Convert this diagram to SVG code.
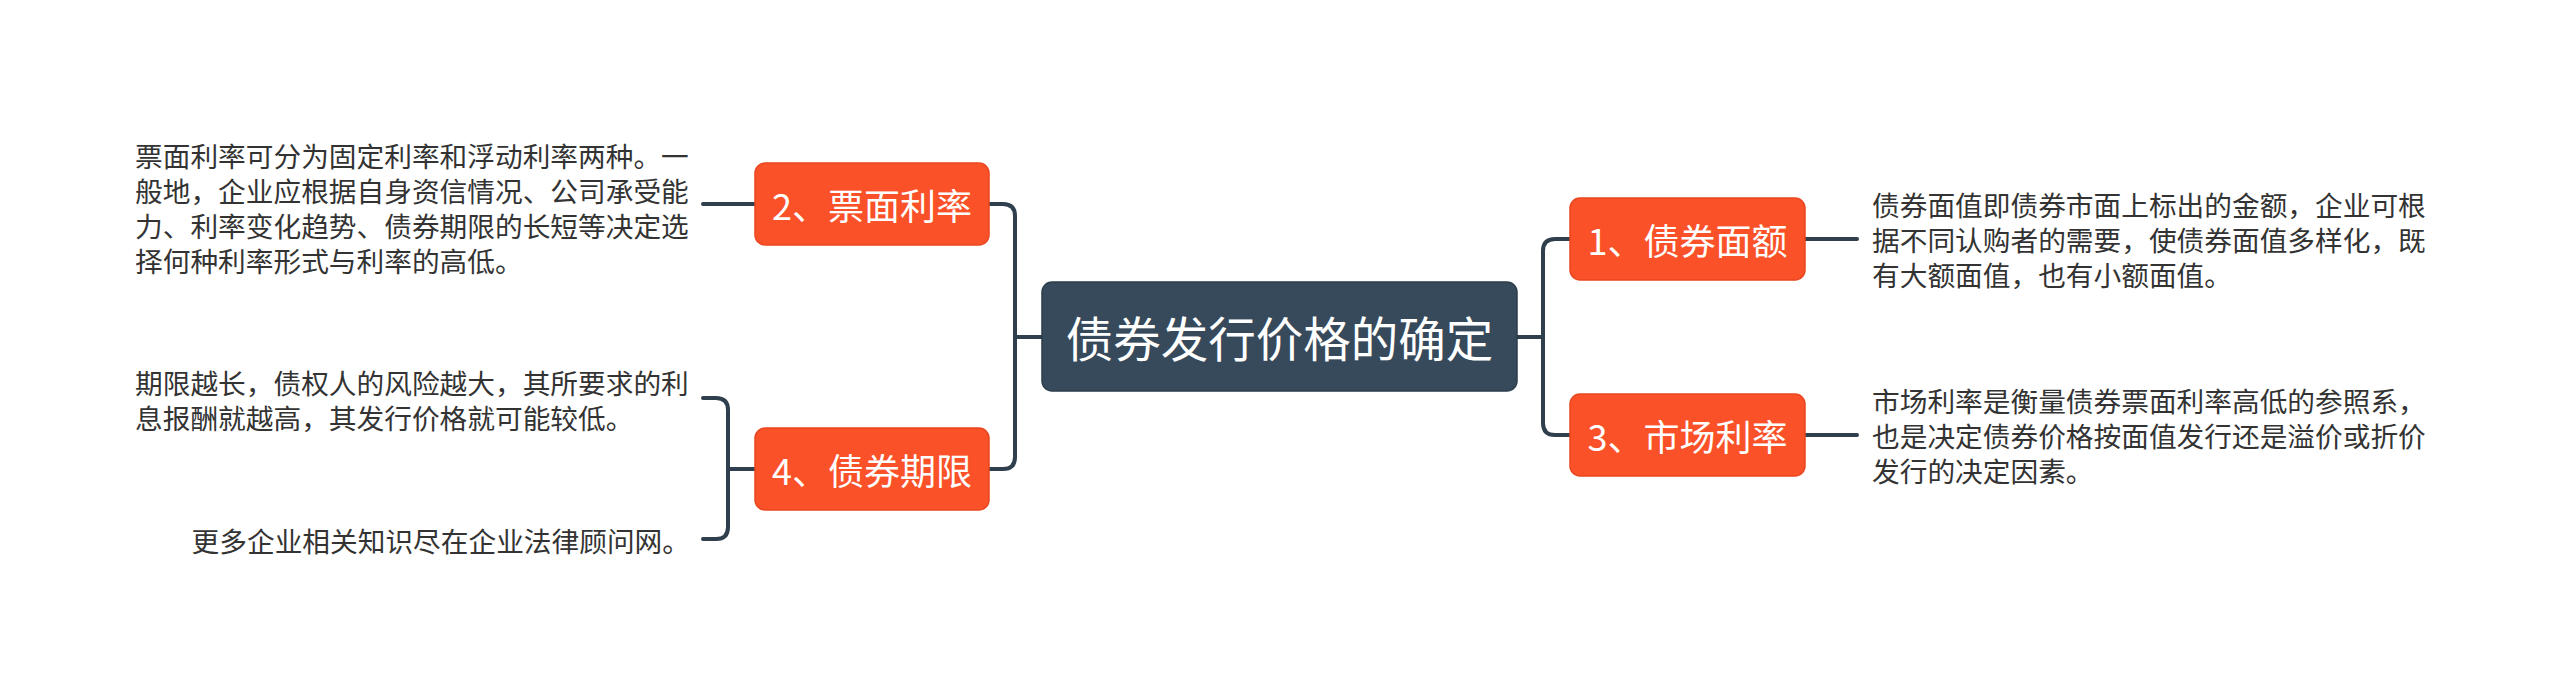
<svg xmlns="http://www.w3.org/2000/svg" width="2560" height="691" viewBox="0 0 2560 691">
<style>
.main{fill:#374a5b;stroke:#2d3e4d;stroke-width:1.5}
.sub{fill:#fa5129;stroke:#e8471f;stroke-width:1.5}
.mt{font-family:"Noto Sans CJK SC","Noto Sans",sans-serif;font-size:47.5px;fill:#ffffff;text-anchor:middle;dominant-baseline:central}
.st{font-family:"Noto Sans CJK SC","Noto Sans",sans-serif;font-size:36px;fill:#ffffff;text-anchor:middle;dominant-baseline:central}
.dt{font-family:"Noto Sans CJK SC","Noto Sans",sans-serif;font-size:27.7px;fill:#333333;dominant-baseline:central}
.ln{fill:none;stroke:#2f3f4e;stroke-width:4;stroke-linecap:round;stroke-linejoin:round}
</style>
<rect width="2560" height="691" fill="#ffffff"/>
<g id="connectors">
<path class="ln" d="M1042 337 H1015 M989 204 H1003 Q1015 204 1015 216 V457 Q1015 469 1003 469 H989"/>
<path class="ln" d="M1517 337 H1543 M1570 239 H1555 Q1543 239 1543 251 V423 Q1543 435 1555 435 H1570"/>
<path class="ln" d="M755 204 H703"/>
<path class="ln" d="M755 469 H728 M703 398 H716 Q728 398 728 410 V527 Q728 539 716 539 H703"/>
<path class="ln" d="M1805 239 H1857"/>
<path class="ln" d="M1805 435 H1857"/>
</g>
<g id="center">
<rect class="main" x="1042" y="282" width="475" height="109" rx="10"/>
<text class="mt" x="1279.5" y="336.5">债券发行价格的确定</text>
</g>
<g id="node1">
<rect class="sub" x="1570" y="198" width="235" height="82" rx="10"/>
<text class="st" x="1687.5" y="239">1、债券面额</text>
</g>
<g id="node2">
<rect class="sub" x="755" y="163" width="234" height="82" rx="10"/>
<text class="st" x="872" y="204">2、票面利率</text>
</g>
<g id="node3">
<rect class="sub" x="1570" y="394" width="235" height="82" rx="10"/>
<text class="st" x="1687.5" y="435">3、市场利率</text>
</g>
<g id="node4">
<rect class="sub" x="755" y="428" width="234" height="82" rx="10"/>
<text class="st" x="872" y="469">4、债券期限</text>
</g>
<g id="note1">
<text class="dt" x="1872" y="204">债券面值即债券市面上标出的金额，企业可根</text>
<text class="dt" x="1872" y="239">据不同认购者的需要，使债券面值多样化，既</text>
<text class="dt" x="1872" y="274">有大额面值，也有小额面值。</text>
</g>
<g id="note2">
<text class="dt" x="135" y="155">票面利率可分为固定利率和浮动利率两种。一</text>
<text class="dt" x="135" y="190">般地，企业应根据自身资信情况、公司承受能</text>
<text class="dt" x="135" y="225">力、利率变化趋势、债券期限的长短等决定选</text>
<text class="dt" x="135" y="260">择何种利率形式与利率的高低。</text>
</g>
<g id="note3">
<text class="dt" x="1872" y="400">市场利率是衡量债券票面利率高低的参照系，</text>
<text class="dt" x="1872" y="435">也是决定债券价格按面值发行还是溢价或折价</text>
<text class="dt" x="1872" y="470">发行的决定因素。</text>
</g>
<g id="note4">
<text class="dt" x="135" y="382">期限越长，债权人的风险越大，其所要求的利</text>
<text class="dt" x="135" y="417">息报酬就越高，其发行价格就可能较低。</text>
</g>
<g id="note5">
<text class="dt" x="690" y="540" text-anchor="end">更多企业相关知识尽在企业法律顾问网。</text>
</g>
</svg>
